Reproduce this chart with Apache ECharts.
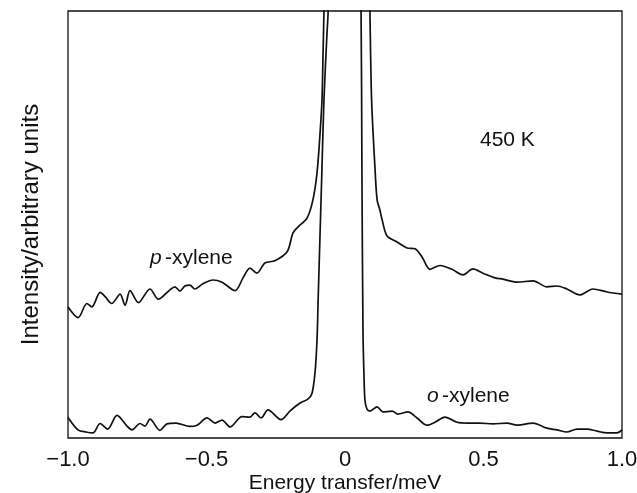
<!DOCTYPE html>
<html>
<head>
<meta charset="utf-8">
<script src="https://cdn.jsdelivr.net/npm/echarts@6/dist/echarts.min.js"></script>
<style>html,body{margin:0;padding:0;background:#fff;}#c{width:637px;height:493px;}</style>
</head>
<body>
<div id="c"></div>
<script>
// x-axis tick values and labels
var xTicks = [-1.0, -0.5, 0, 0.5, 1.0];
var xTickLabels = ['\u22121.0', '\u22120.5', '0', '0.5', '1.0'];

// p-xylene (energy transfer / meV, intensity in arbitrary units, peak runs off scale)
var pX = [-1.000,-0.963,-0.932,-0.914,-0.884,-0.866,-0.842,-0.812,-0.794,-0.776,-0.746,-0.704,-0.674,-0.632,-0.614,-0.596,-0.578,-0.560,-0.542,-0.513,-0.477,-0.444,-0.397,-0.368,-0.343,-0.318,-0.289,-0.253,-0.209,-0.188,-0.170,-0.137,-0.116,-0.101,-0.090,-0.083,-0.079,-0.076,
          0.007,
          0.090,0.096,0.108,0.116,0.126,0.134,0.152,0.188,0.224,0.253,0.278,0.307,0.343,0.386,0.426,0.462,0.498,0.542,0.570,0.621,0.679,0.729,0.765,0.801,0.848,0.895,0.946,1.000];
var pY = [30.7,28.2,31.5,30.7,34.1,33.1,31.5,33.7,31.1,34.5,31.7,34.9,32.5,34.7,35.4,34.4,35.6,35.8,34.9,36.1,37.0,36.5,34.5,37.5,39.8,38.6,41.0,41.5,43.6,48.0,49.4,51.5,55.7,62.1,71.4,79.2,90.9,99.8,
          400,
          99.8,79.2,63.5,55.7,53.4,51.1,47.3,45.9,44.5,44.3,42.4,39.5,40.4,39.5,38.2,39.6,38.6,37.5,37.2,36.5,36.8,35.4,35.6,34.9,33.5,34.9,34.2,33.7];

// o-xylene
var oX = [-1.000,-0.964,-0.935,-0.910,-0.884,-0.857,-0.823,-0.787,-0.769,-0.740,-0.722,-0.704,-0.668,-0.643,-0.610,-0.560,-0.534,-0.498,-0.469,-0.444,-0.415,-0.372,-0.343,-0.325,-0.303,-0.278,-0.231,-0.199,-0.162,-0.134,-0.119,-0.108,-0.101,-0.097,-0.090,-0.083,-0.076,-0.065,-0.061,
          -0.001,
          0.058,0.061,0.065,0.069,0.072,0.079,0.090,0.116,0.137,0.170,0.191,0.227,0.260,0.296,0.325,0.361,0.404,0.444,0.487,0.534,0.585,0.621,0.679,0.729,0.765,0.801,0.838,0.874,0.910,0.946,0.982,1.000];
var oY = [4.8,1.9,1.4,1.2,3.4,2.1,5.3,2.8,1.9,3.4,2.8,4.4,1.8,3.3,3.5,2.7,3.0,4.7,3.5,4.2,2.6,5.0,4.9,5.9,4.7,6.6,4.3,6.3,8.2,9.1,10.5,15.5,23.0,32.3,48.0,63.5,79.2,94.8,99.8,
          400,
          99.8,63.5,24.6,13.6,8.9,6.8,6.3,7.3,6.1,6.3,5.6,6.1,4.7,3.0,3.7,4.9,3.7,3.5,3.5,3.3,3.5,3.0,3.5,2.3,1.9,1.4,2.1,2.1,1.6,1.2,1.2,1.9];

function pairs(xs, ys) { return xs.map(function (x, i) { return [x, ys[i]]; }); }

var FONT = '"Liberation Sans", Arial, Helvetica, sans-serif';
var chart = echarts.init(document.getElementById('c'), null, {renderer: 'canvas'});
chart.setOption({
  animation: false,
  backgroundColor: '#ffffff',
  grid: {left: 68, right: 15, top: 11, bottom: 55, containLabel: false, outerBoundsMode: 'none',
         show: true, borderColor: '#111', borderWidth: 1.3, backgroundColor: 'transparent'},
  xAxis: {
    type: 'value', min: -1, max: 1, interval: 0.5,
    axisLine: {show: false}, axisTick: {show: false}, splitLine: {show: false},
    axisLabel: {
      color: '#111', fontFamily: FONT, fontSize: 22, margin: 11,
      formatter: function (v) { var i = xTicks.indexOf(Math.round(v * 10) / 10); return i >= 0 ? xTickLabels[i] : ''; }
    },
    name: 'Energy transfer/meV', nameLocation: 'middle', nameGap: 35, nameMoveOverlap: false,
    nameTextStyle: {color: '#111', fontFamily: FONT, fontSize: 21}
  },
  yAxis: {
    type: 'value', min: 0, max: 100,
    axisLine: {show: false}, axisTick: {show: false}, splitLine: {show: false}, axisLabel: {show: false},
    name: 'Intensity/arbitrary units', nameLocation: 'middle', nameGap: 25, nameMoveOverlap: false,
    nameTextStyle: {color: '#111', fontFamily: FONT, fontSize: 24}
  },
  series: [
    {name: 'p-xylene', type: 'line', data: pairs(pX, pY), smooth: 0.3, showSymbol: false, clip: true,
     lineStyle: {color: '#111', width: 1.7}},
    {name: 'o-xylene', type: 'line', data: pairs(oX, oY), smooth: 0.3, showSymbol: false, clip: true,
     lineStyle: {color: '#111', width: 1.7}}
  ],
  graphic: [
    {type: 'text', left: 150, top: 248, style: {rich: {i: {fontStyle: 'italic', fontFamily: FONT, fontSize: 21, fill: '#111'}, n: {fontFamily: FONT, fontSize: 21, fill: '#111'}}, text: '{i|p} {n|-xylene}'}},
    {type: 'text', left: 427, top: 386, style: {rich: {i: {fontStyle: 'italic', fontFamily: FONT, fontSize: 21, fill: '#111'}, n: {fontFamily: FONT, fontSize: 21, fill: '#111'}}, text: '{i|o} {n|-xylene}'}},
    {type: 'text', left: 480, top: 130, style: {text: '450 K', font: '21px ' + FONT, fill: '#111'}}
  ]
});
</script>
</body>
</html>
